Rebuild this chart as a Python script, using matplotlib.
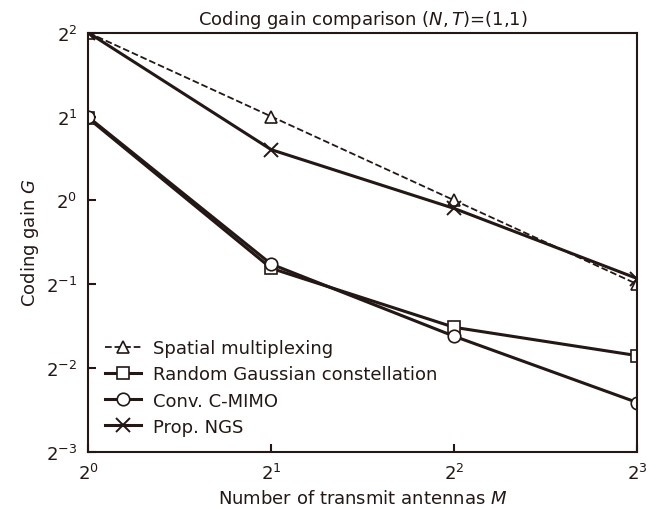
import matplotlib
matplotlib.use("Agg")
import matplotlib.pyplot as plt
from matplotlib.ticker import FixedLocator

M = [1, 2, 4, 8]
spatial_mux = [4.0, 2.0, 1.0, 0.5]
random_gauss = [1.97, 0.57, 0.35, 0.277]
conv_cmimo = [1.99, 0.59, 0.325, 0.188]
prop_ngs = [4.0, 1.52, 0.935, 0.524]

labels = ["Spatial multiplexing", "Random Gaussian constellation",
          "Conv. C-MIMO", "Prop. NGS"]
col = "#231815"

plt.rcParams['font.family'] = ['DejaVu Sans']
plt.rcParams['mathtext.fontset'] = 'dejavusans'
fig = plt.figure(figsize=(6.59, 5.10), dpi=100)
ax = fig.add_axes([0.134, 0.112, 0.833, 0.822])

ax.plot(M, spatial_mux, ls='--', lw=1.3, color=col, marker='^', ms=9,
        mfc='white', mec=col, mew=1.2, label=labels[0])
ax.plot(M, random_gauss, ls='-', lw=2.2, color=col, marker='s', ms=9,
        mfc='white', mec=col, mew=1.2, label=labels[1])
ax.plot(M, conv_cmimo, ls='-', lw=2.2, color=col, marker='o', ms=9,
        mfc='white', mec=col, mew=1.2, label=labels[2])
ax.plot(M, prop_ngs, ls='-', lw=2.2, color=col, marker='x', ms=10,
        mfc='white', mec=col, mew=1.4, label=labels[3])

ax.set_xscale('log', base=2)
ax.set_yscale('log', base=2)
ax.set_xlim(1, 8)
ax.set_ylim(2**-3, 2**2)
ax.xaxis.set_major_locator(FixedLocator([1, 2, 4, 8]))
ax.yaxis.set_major_locator(FixedLocator([2**-3, 2**-2, 2**-1, 1, 2, 4]))
ax.minorticks_off()
ax.set_xticklabels([r'$2^{0}$', r'$2^{1}$', r'$2^{2}$', r'$2^{3}$'])
ax.set_yticklabels([r'$2^{-3}$', r'$2^{-2}$', r'$2^{-1}$', r'$2^{0}$', r'$2^{1}$', r'$2^{2}$'])
ax.tick_params(direction='in', length=6, width=1.5, colors=col, labelsize=13,
               labelcolor=col, pad=8)
for s in ax.spines.values():
    s.set_color(col)
    s.set_linewidth(1.5)

ax.set_xlabel(r'Number of transmit antennas $M$', fontsize=13, color=col)
ax.set_ylabel(r'Coding gain $G$', fontsize=13, color=col)
ax.set_title(r'Coding gain comparison $(N,T)$=(1,1)', fontsize=13, color=col, pad=6)

leg = ax.legend(loc='lower left', frameon=False, fontsize=13,
                handlelength=2.0, handletextpad=0.7, labelspacing=0.45,
                borderaxespad=0.5)
for t in leg.get_texts():
    t.set_color(col)

fig.savefig('out.png', dpi=100)
